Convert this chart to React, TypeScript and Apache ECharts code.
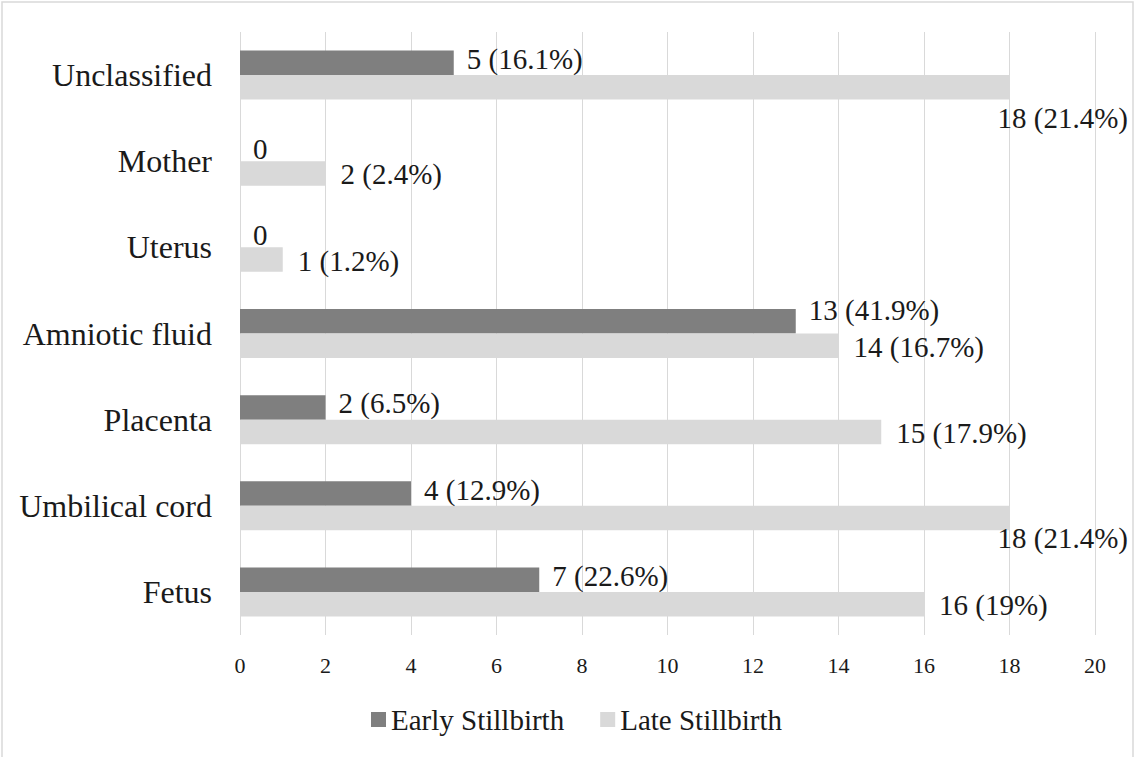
import React, { useEffect, useRef } from "react";
import * as echarts from "echarts";

const categories = ["Unclassified", "Mother", "Uterus", "Amniotic fluid", "Placenta", "Umbilical cord", "Fetus"];
const earlyValues = [5, 0, 0, 13, 2, 4, 7];
const earlyPct: (number | null)[] = [16.1, null, null, 41.9, 6.5, 12.9, 22.6];
const lateValues = [18, 2, 1, 14, 15, 18, 16];
const latePct: (number | null)[] = [21.4, 2.4, 1.2, 16.7, 17.9, 21.4, 19];
const xTicks = { min: 0, max: 20, interval: 2 };
const seriesNames = ["Early Stillbirth", "Late Stillbirth"];

// label nudges (pixels) for a few labels, keyed by category
const earlyLabelNudge: Record<string, [number, number]> = {
  "Amniotic fluid": [0, -7],
  Mother: [0, 4],
  Uterus: [0, 4],
};
const lateLabelNudge: Record<string, [number, number]> = {
  Unclassified: [-27, 30],
  "Umbilical cord": [-27, 19],
};

const FONT = "Liberation Serif";
const TEXT = "#1a1a1a";

function buildData(values: number[], pct: (number | null)[], nudge: Record<string, [number, number]>, base: [number, number]) {
  return values.map((v, i) => {
    const n = nudge[categories[i]];
    const item: any = { value: v, pct: pct[i] };
    if (n) item.label = { offset: [base[0] + n[0], base[1] + n[1]] };
    return item;
  });
}

function fmt(p: any) {
  const pc = p.data.pct;
  return pc == null ? `${p.value}` : `${p.value} (${pc}%)`;
}

export default function App() {
  const ref = useRef<HTMLDivElement>(null);
  useEffect(() => {
    if (!ref.current) return;
    const chart = echarts.init(ref.current, null, { renderer: "svg" });
    const earlyBase: [number, number] = [0, -4];
    const lateBase: [number, number] = [0, 1];
    chart.setOption({
      animation: false,
      backgroundColor: "#ffffff",
      textStyle: { fontFamily: FONT },
      grid: { left: 240, right: 41, top: 32, height: 603, containLabel: false },
      graphic: [
        {
          type: "rect",
          shape: { x: 2, y: 2, width: 1131, height: 800 },
          style: { fill: "none", stroke: "#d9d9d9", lineWidth: 1.5 },
          silent: true,
        },
      ],
      legend: {
        data: seriesNames,
        left: 366,
        top: 700,
        itemWidth: 15,
        itemHeight: 15,
        itemGap: 36,
        icon: "rect",
        textStyle: { fontFamily: FONT, fontSize: 29, color: TEXT },
      },
      xAxis: {
        type: "value",
        min: xTicks.min,
        max: xTicks.max,
        interval: xTicks.interval,
        axisLine: { show: false },
        axisTick: { show: false },
        splitLine: { show: true, lineStyle: { color: "#d9d9d9", width: 1 } },
        axisLabel: { fontFamily: FONT, fontSize: 22, color: TEXT, margin: 19 },
      },
      yAxis: {
        type: "category",
        data: categories,
        inverse: true,
        axisLine: { show: false },
        axisTick: { show: false },
        splitLine: { show: false },
        axisLabel: { fontFamily: FONT, fontSize: 32, color: TEXT, margin: 28 },
      },
      series: [
        {
          name: seriesNames[0],
          type: "bar",
          barWidth: 24.5,
          barGap: "0%",
          itemStyle: { color: "#7f7f7f" },
          label: {
            show: true,
            position: "right",
            distance: 13,
            offset: earlyBase,
            fontFamily: FONT,
            fontSize: 29,
            color: TEXT,
            formatter: fmt,
          },
          data: buildData(earlyValues, earlyPct, earlyLabelNudge, earlyBase),
        },
        {
          name: seriesNames[1],
          type: "bar",
          barWidth: 24.5,
          barGap: "0%",
          itemStyle: { color: "#d9d9d9" },
          label: {
            show: true,
            position: "right",
            distance: 15,
            offset: lateBase,
            fontFamily: FONT,
            fontSize: 29,
            color: TEXT,
            formatter: fmt,
          },
          data: buildData(lateValues, latePct, lateLabelNudge, lateBase),
        },
      ],
    });
    return () => chart.dispose();
  }, []);
  return (
    <div
      ref={ref}
      style={{ position: "fixed", left: 0, top: 0, width: 1136, height: 757, background: "#fff" }}
    />
  );
}
